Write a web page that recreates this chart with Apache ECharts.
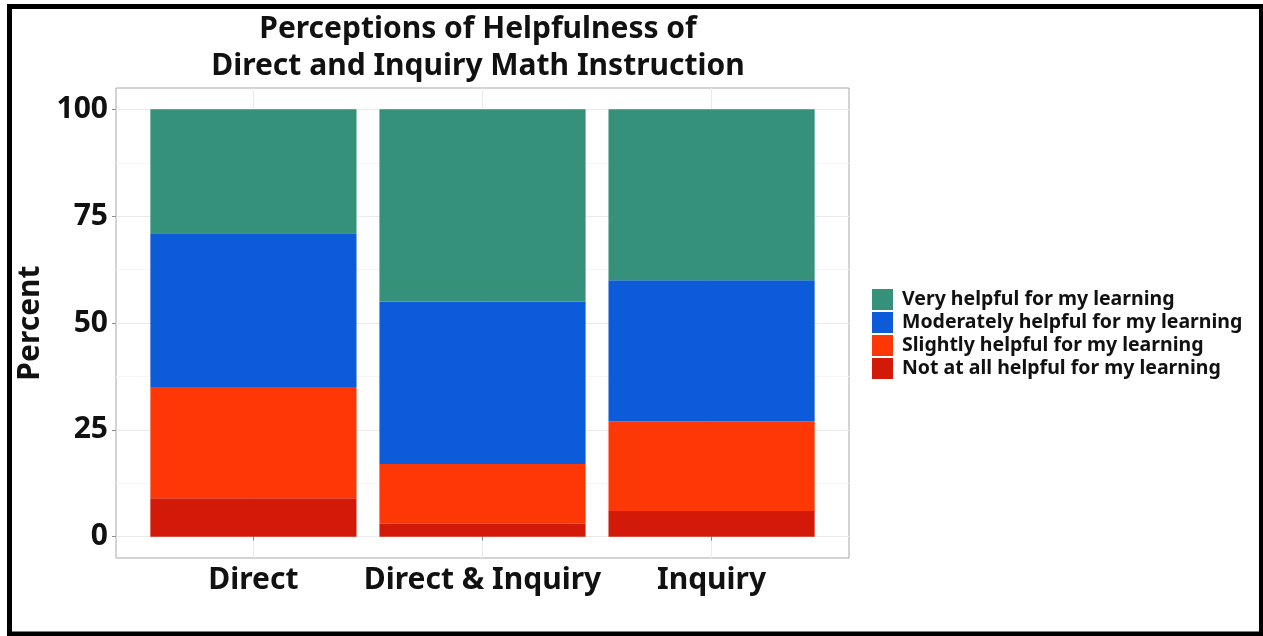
<!DOCTYPE html>
<html>
<head>
<meta charset="utf-8">
<script src="https://cdn.jsdelivr.net/npm/echarts@6/dist/echarts.min.js"></script>
<style>
html,body{margin:0;padding:0;background:#fff;}
#chart{width:1263px;height:636px;}
</style>
</head>
<body>
<div id="chart"></div>
<script>
const categories = ['Direct', 'Direct & Inquiry', 'Inquiry'];
const levels = [
  'Very helpful for my learning',
  'Moderately helpful for my learning',
  'Slightly helpful for my learning',
  'Not at all helpful for my learning'
];
const veryHelpful = [29, 45, 40];
const moderatelyHelpful = [36, 38, 33];
const slightlyHelpful = [26, 14, 21];
const notAtAllHelpful = [9, 3, 6];
const yTicks = [0, 25, 50, 75, 100];
const yMinorTicks = [12.5, 37.5, 62.5, 87.5];
const colors = {
  'Very helpful for my learning': '#35917a',
  'Moderately helpful for my learning': '#0c5bd8',
  'Slightly helpful for my learning': '#fd3705',
  'Not at all helpful for my learning': '#d31a08'
};

const FONT = '"Noto Sans"';
const xPos = categories.map((c, i) => i + 1);
// value first (stacked dimension), category position second
function pts(arr) { return arr.map((v, i) => [v, i + 1]); }

const stackOrder = [
  [levels[3], notAtAllHelpful],
  [levels[2], slightlyHelpful],
  [levels[1], moderatelyHelpful],
  [levels[0], veryHelpful]
];

const chart = echarts.init(document.getElementById('chart'), null, {renderer: 'canvas'});
chart.setOption({
  animation: false,
  backgroundColor: '#ffffff',
  grid: {
    left: 116, top: 88, width: 733, height: 470,
    show: true, borderColor: '#a8a8a8', borderWidth: 1, backgroundColor: '#ffffff'
  },
  legend: {
    orient: 'vertical',
    left: 872, top: 289, padding: 0,
    itemWidth: 21, itemHeight: 21, itemGap: 2,
    icon: 'rect',
    data: levels,
    textStyle: {fontFamily: FONT, fontWeight: 'bold', fontSize: 19.5, color: '#111', padding: [0, 0, 0, 4]}
  },
  xAxis: {
    type: 'value', min: 0.4, max: 3.6,
    axisLine: {show: false},
    axisTick: {show: true, customValues: xPos, length: 4, lineStyle: {color: '#8a8a8a'}},
    axisLabel: {
      customValues: xPos, margin: 7,
      formatter: v => categories[Math.round(v) - 1] || '',
      fontFamily: FONT, fontWeight: 'bold', fontSize: 30, color: '#111'
    },
    splitLine: {show: true, lineStyle: {color: '#ebebeb', width: 1}}
  },
  yAxis: [{
    type: 'value', min: -5, max: 105,
    name: 'Percent', nameLocation: 'middle', nameRotate: 90, nameGap: 70,
    nameTextStyle: {fontFamily: FONT, fontWeight: 'bold', fontSize: 30, color: '#111'},
    axisLine: {show: false},
    axisTick: {show: true, customValues: yTicks, length: 4, lineStyle: {color: '#8a8a8a'}},
    axisLabel: {customValues: yTicks, margin: 8, fontFamily: FONT, fontWeight: 'bold', fontSize: 30, color: '#111'},
    splitLine: {show: true, lineStyle: {color: '#ebebeb', width: 1}}
  }, {
    type: 'value', min: -5, max: 105, position: 'left',
    axisLine: {show: false},
    axisTick: {show: false, customValues: yMinorTicks},
    axisLabel: {show: false, customValues: yMinorTicks},
    splitLine: {show: true, lineStyle: {color: '#f5f5f5', width: 1}}
  }],
  graphic: [{
    type: 'text', x: 478, y: 11, z: 100,
    style: {
      text: 'Perceptions of Helpfulness of\nDirect and Inquiry Math Instruction',
      font: 'bold 30px ' + FONT, fill: '#111', align: 'center', verticalAlign: 'top', lineHeight: 37
    }
  }, {
    type: 'rect', z: 100,
    shape: {x: 9.5, y: 6.5, width: 1252, height: 627.5},
    style: {fill: 'none', stroke: '#000', lineWidth: 5}
  }],
  series: stackOrder.map(([name, vals]) => ({
    name: name, type: 'bar', stack: 'total', yAxisIndex: 0,
    barWidth: '90%',
    encode: {x: 1, y: 0},
    itemStyle: {color: colors[name]},
    data: pts(vals)
  }))
});
</script>
</body>
</html>
